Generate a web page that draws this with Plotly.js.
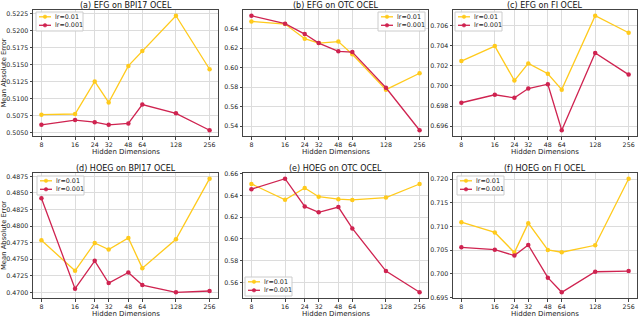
<!DOCTYPE html>
<html>
<head>
<meta charset="utf-8">
<script src="https://cdn.plot.ly/plotly-3.0.1.min.js"></script>
<style>html,body{margin:0;padding:0;background:#fff;}#chart{width:640px;height:317px;}</style>
</head>
<body>
<div id="chart"></div>
<script>
const hiddenDims = [8, 16, 24, 32, 48, 64, 128, 256];
const hiddenDimLabels = ['8', '16', '24', '32', '48', '64', '128', '256'];
const seriesNames = ['lr=0.01', 'lr=0.001'];
const panelTitles = ['(a) EFG on BPI17 OCEL', '(b) EFG on OTC OCEL', '(c) EFG on FI OCEL',
                     '(d) HOEG on BPI17 OCEL', '(e) HOEG on OTC OCEL', '(f) HOEG on FI OCEL'];

const efgBpiLr01  = [0.5076, 0.5077, 0.5125, 0.5094, 0.5148, 0.5170, 0.5222, 0.5143];
const efgBpiLr001 = [0.5061, 0.5068, 0.5065, 0.5061, 0.5063, 0.5091, 0.5078, 0.5053];
const efgOtcLr01  = [0.6475, 0.6448, 0.6298, 0.6253, 0.6268, 0.6138, 0.5775, 0.5943];
const efgOtcLr001 = [0.6533, 0.6451, 0.6345, 0.6253, 0.6168, 0.6160, 0.5795, 0.5359];
const efgFiLr01   = [0.70246, 0.70395, 0.70053, 0.70223, 0.70121, 0.69963, 0.70696, 0.70527];
const efgFiLr001  = [0.69833, 0.69912, 0.69882, 0.69974, 0.70017, 0.69560, 0.70326, 0.70112];
const hoegBpiLr01  = [0.47785, 0.47325, 0.47745, 0.47645, 0.47820, 0.47365, 0.47800, 0.48715];
const hoegBpiLr001 = [0.48420, 0.47055, 0.47475, 0.47140, 0.47300, 0.47110, 0.47000, 0.47020];
const hoegOtcLr01  = [0.6506, 0.6360, 0.6469, 0.6388, 0.6366, 0.6359, 0.6380, 0.6505];
const hoegOtcLr001 = [0.6457, 0.6554, 0.6299, 0.6245, 0.6293, 0.6097, 0.5704, 0.5509];
const hoegFiLr01   = [0.71090, 0.70874, 0.70450, 0.71070, 0.70506, 0.70457, 0.70603, 0.72007];
const hoegFiLr001  = [0.70560, 0.70510, 0.70387, 0.70610, 0.69920, 0.69612, 0.70045, 0.70059];

const panelSeries = [
  [efgBpiLr01, efgBpiLr001], [efgOtcLr01, efgOtcLr001], [efgFiLr01, efgFiLr001],
  [hoegBpiLr01, hoegBpiLr001], [hoegOtcLr01, hoegOtcLr001], [hoegFiLr01, hoegFiLr001]
];
const yTickStart = [0.5050, 0.54, 0.696, 0.4700, 0.56, 0.695];
const yTickStep  = [0.0025, 0.02, 0.002, 0.0025, 0.02, 0.005];
const yTickFmt   = ['.4f', '.2f', '.3f', '.4f', '.2f', '.3f'];

const colors = ['#FFCA1C', '#CF2350'];
const W = 640, H = 317;
const xPix = [[33, 218], [243, 428], [453, 637]];
const yPix = [[10, 136], [173, 298]];
// legend box top-left corners (pixels)
const legendBox = [[36, 12], [378, 12], [455, 12], [37, 176], [245, 277], [457, 176]];

const font = 'DejaVu Sans, Arial, sans-serif';
const traces = [];
const layout = {
  width: W, height: H,
  margin: {l: 0, r: 0, t: 0, b: 0},
  paper_bgcolor: '#fff', plot_bgcolor: '#fff',
  showlegend: false,
  font: {family: font, size: 7, color: '#222'},
  annotations: [], shapes: []
};
const px = v => v / W, py = v => 1 - v / H;

const lx0 = Math.log10(8), lx1 = Math.log10(256);
const lpad = (lx1 - lx0) * 0.05;

for (let p = 0; p < 6; p++) {
  const col = p % 3, row = Math.floor(p / 3);
  const sfx = p === 0 ? '' : String(p + 1);
  const [s1, s2] = panelSeries[p];
  [s1, s2].forEach((vals, i) => {
    traces.push({
      x: hiddenDims, y: vals, type: 'scatter', mode: 'lines+markers',
      name: seriesNames[i], xaxis: 'x' + sfx, yaxis: 'y' + sfx,
      line: {color: colors[i], width: 1.3},
      marker: {color: colors[i], size: 4.5, symbol: 'circle'}
    });
  });
  const all = s1.concat(s2);
  const mn = Math.min(...all), mx = Math.max(...all);
  const pad = (mx - mn) * 0.05;
  const yt = [];
  for (let v = yTickStart[p]; v <= mx + pad + 1e-9; v += yTickStep[p]) yt.push(+v.toFixed(6));
  const xd = [px(xPix[col][0]), px(xPix[col][1])];
  const yd = [py(yPix[row][1]), py(yPix[row][0])];
  const axCommon = {
    showgrid: true, gridcolor: '#dcdcdc', gridwidth: 1,
    zeroline: false, showline: true, mirror: true, linecolor: '#444', linewidth: 1,
    ticks: 'outside', ticklen: 2.5, tickcolor: '#444',
    tickfont: {family: font, size: 6.3, color: '#222'}
  };
  layout['xaxis' + sfx] = Object.assign({
    domain: xd, anchor: 'y' + sfx, type: 'log',
    range: [lx0 - lpad, lx1 + lpad],
    tickvals: hiddenDims, ticktext: hiddenDimLabels
  }, axCommon);
  layout['yaxis' + sfx] = Object.assign({
    domain: yd, anchor: 'x' + sfx,
    range: [mn - pad, mx + pad],
    tickvals: yt, tickformat: yTickFmt[p]
  }, axCommon);

  // panel title
  layout.annotations.push({
    text: panelTitles[p], xref: 'paper', yref: 'paper',
    x: (xd[0] + xd[1]) / 2, y: py(yPix[row][0] - 5), xanchor: 'center', yanchor: 'middle',
    showarrow: false, font: {family: font, size: 8, color: '#111'}
  });
  // x axis title
  layout.annotations.push({
    text: 'Hidden Dimensions', xref: 'paper', yref: 'paper',
    x: (xd[0] + xd[1]) / 2, y: py(yPix[row][1] + 15.5), xanchor: 'center', yanchor: 'middle',
    showarrow: false, font: {family: font, size: 7, color: '#222'}, borderpad: 0
  });
  if (col === 0) {
    layout.annotations.push({
      text: 'Mean Absolute Error', xref: 'paper', yref: 'paper',
      x: px(3.5), y: (yd[0] + yd[1]) / 2, xanchor: 'center', yanchor: 'middle',
      textangle: -90, showarrow: false, font: {family: font, size: 6.8, color: '#222'}, borderpad: 0
    });
  }

  // legend (drawn in paper space)
  const [lx, ly] = legendBox[p];
  layout.shapes.push({
    type: 'rect', xref: 'paper', yref: 'paper',
    x0: px(lx), x1: px(lx + 47), y0: py(ly + 19), y1: py(ly),
    line: {color: '#cccccc', width: 1}, fillcolor: 'rgba(255,255,255,0.85)', layer: 'above'
  });
  seriesNames.forEach((nm, i) => {
    const ry = ly + 4.8 + i * 8.5;
    layout.shapes.push({
      type: 'line', xref: 'paper', yref: 'paper',
      x0: px(lx + 3), x1: px(lx + 15), y0: py(ry), y1: py(ry),
      line: {color: colors[i], width: 1.3}, layer: 'above'
    });
    layout.shapes.push({
      type: 'circle', xref: 'paper', yref: 'paper',
      x0: px(lx + 7.2), x1: px(lx + 10.8), y0: py(ry + 1.8), y1: py(ry - 1.8),
      line: {color: colors[i], width: 0.5}, fillcolor: colors[i], layer: 'above'
    });
    layout.annotations.push({
      text: nm, xref: 'paper', yref: 'paper',
      x: px(lx + 18), y: py(ry), xanchor: 'left', yanchor: 'middle',
      showarrow: false, font: {family: font, size: 6.4, color: '#222'},
      borderpad: 0
    });
  });
}

Plotly.newPlot('chart', traces, layout, {displayModeBar: false, staticPlot: true});
</script>
</body>
</html>
